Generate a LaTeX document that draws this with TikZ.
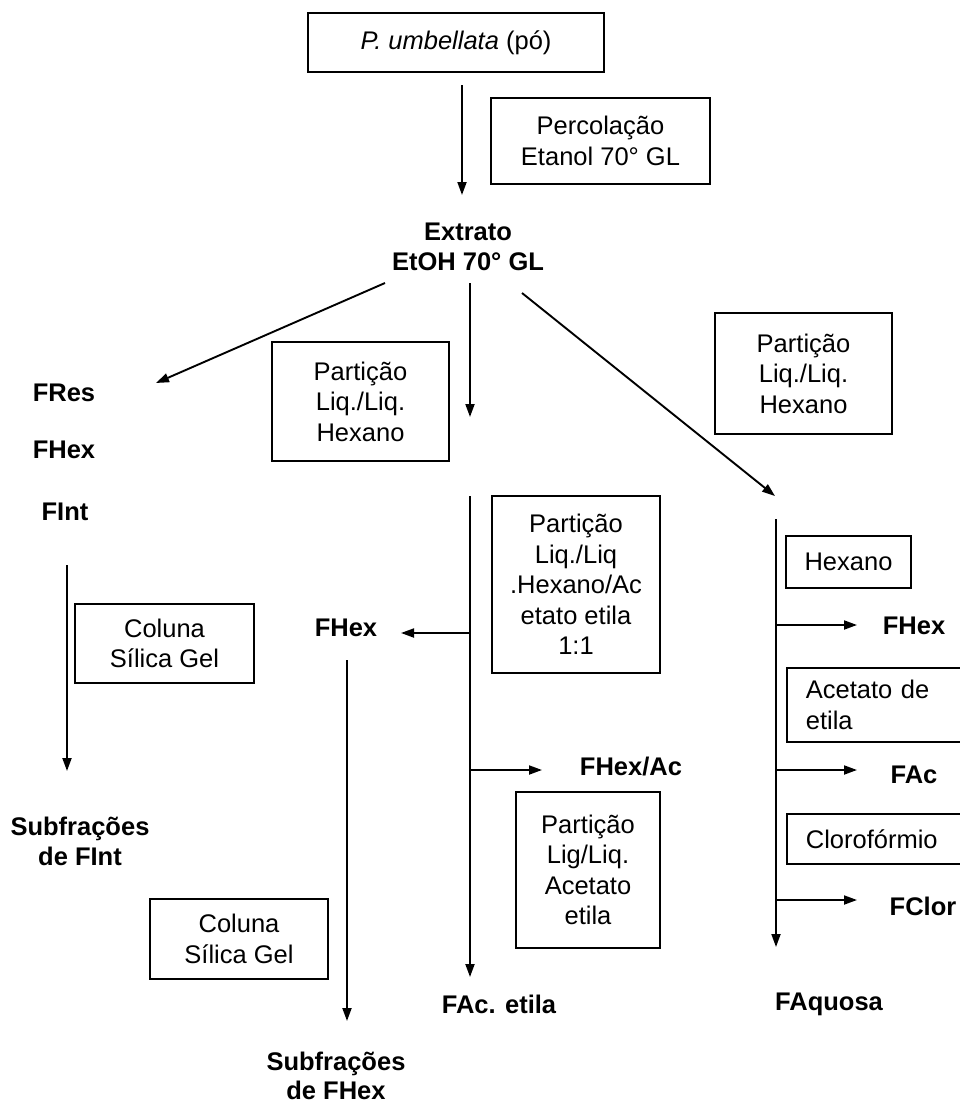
\documentclass[tikz,border=0pt]{standalone}
\usepackage{fontspec}
\setmainfont{Liberation Sans}
\usetikzlibrary{arrows.meta}
\begin{document}
\begin{tikzpicture}[x=1pt,y=-1pt,
  box/.style={draw, line width=1.8pt, inner sep=0pt, font=\fontsize{25.5}{30.5}\selectfont, align=center},
  lbl/.style={font=\fontsize{25.5}{30}\selectfont\bfseries, align=center, inner sep=0pt},
  arr/.style={line width=1.9pt, -{Triangle[length=13pt,width=9pt]}}]
\useasboundingbox (0,0) rectangle (960,1108);
\fill[white] (0,0) rectangle (960,1108);
\clip (0,0) rectangle (960,1108);

% boxes
\node[box, minimum width=296pt, minimum height=59pt] (top) at (456,42.5) {\textit{P. umbellata} (pó)};
\node[box, minimum width=219pt, minimum height=86pt] (perc) at (600.5,141) {Percolação\\Etanol 70° GL};
\node[box, minimum width=177pt, minimum height=119pt] (partA) at (360.5,401.5) {Partição\\Liq./Liq.\\Hexano};
\node[box, minimum width=177pt, minimum height=121pt] (partB) at (803.5,373.5) {Partição\\Liq./Liq.\\Hexano};
\node[box, minimum width=179pt, minimum height=79pt] (col1) at (164.5,643.5) {Coluna\\Sílica Gel};
\node[box, minimum width=168pt, minimum height=177pt] (partC) at (576,584.5) {Partição\\Liq./Liq\\.Hexano/Ac\\etato etila\\1:1};
\node[box, minimum width=178pt, minimum height=80pt] (col2) at (239,939) {Coluna\\Sílica Gel};
\node[box, minimum width=144pt, minimum height=156pt] (partD) at (588,870) {Partição\\Lig/Liq.\\Acetato\\etila};
\node[box, minimum width=125pt, minimum height=52pt] (hexb) at (848.5,562) {Hexano};
\node[box, anchor=west, minimum width=189pt, minimum height=74pt, text width=151pt, align=left] (acb) at (786,705) {Acetato de\\etila};
\node[box, anchor=west, minimum width=189pt, minimum height=50pt, text width=151pt, align=left] (clb) at (786,839) {Clorofórmio};

% labels
\node[lbl] (ext) at (468,247) {Extrato\\EtOH 70° GL};
\node[lbl] (fres) at (64,393) {FRes};
\node[lbl] (fhexA) at (64,450) {FHex};
\node[lbl] (fint) at (65,512) {FInt};
\node[lbl] (sfint) at (80,841) {Subfrações\\de FInt};
\node[lbl] (fhexB) at (346,628) {FHex};
\node[lbl, font=\fontsize{25.5}{29}\selectfont\bfseries] (sfhex) at (336,1076) {Subfrações\\de FHex};
\node[lbl] (fhexac) at (631,767) {FHex/Ac};
\node[lbl] (facet) at (499,1004) {FAc. etila};
\node[lbl] (faq) at (829,1004) {FAquosa};
\node[lbl] (fhexC) at (914,626) {FHex};
\node[lbl] (fac) at (914,775) {FAc};
\node[lbl] (fclor) at (923,906) {FClor};

% connector ends
\coordinate (t1) at (462,85);   \coordinate (t2) at (462,195);
\coordinate (l1) at (385,283);  \coordinate (l2) at (156,383);
\coordinate (m1) at (470,283);  \coordinate (m2) at (470,417);
\coordinate (r1) at (522,293);  \coordinate (r2) at (775,496);
\coordinate (v1) at (67,565);   \coordinate (v2) at (67,771);
\coordinate (c1) at (470,496);  \coordinate (c2) at (470,977);
\coordinate (h1) at (470,633);  \coordinate (h2) at (401,633);
\coordinate (s1) at (347,660);  \coordinate (s2) at (347,1021);
\coordinate (a1) at (470,770);  \coordinate (a2) at (542,770);
\coordinate (q1) at (776,519);  \coordinate (q2) at (776,947);
\coordinate (x1) at (776,625);  \coordinate (x2) at (857,625);
\coordinate (y1) at (776,770);  \coordinate (y2) at (857,770);
\coordinate (z1) at (776,900);  \coordinate (z2) at (857,900);

\draw[arr] (t1) -- (t2);
\draw[arr] (l1) -- (l2);
\draw[arr] (m1) -- (m2);
\draw[arr] (r1) -- (r2);
\draw[arr] (v1) -- (v2);
\draw[arr] (c1) -- (c2);
\draw[arr] (h1) -- (h2);
\draw[arr] (s1) -- (s2);
\draw[arr] (a1) -- (a2);
\draw[arr] (q1) -- (q2);
\draw[arr] (x1) -- (x2);
\draw[arr] (y1) -- (y2);
\draw[arr] (z1) -- (z2);
\end{tikzpicture}
\end{document}
